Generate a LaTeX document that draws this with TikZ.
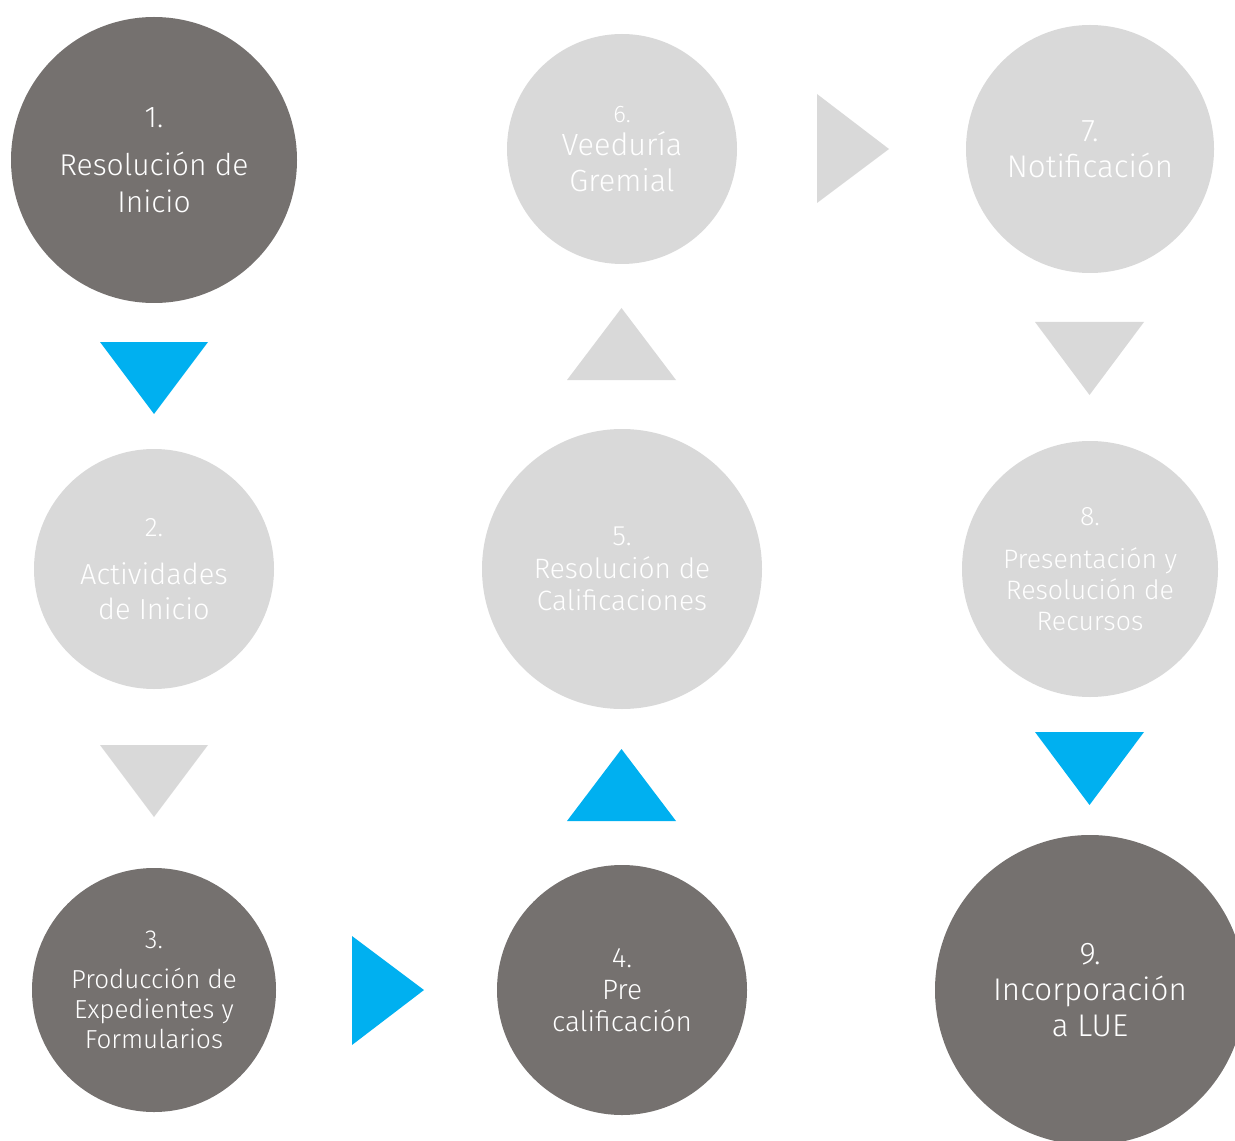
\documentclass[tikz,border=0pt]{standalone}
\usepackage{fontspec}
\setmainfont{Fira Sans}[UprightFont={* Light}]
\definecolor{darkstep}{HTML}{75716F}
\definecolor{lightstep}{HTML}{D9D9D9}
\definecolor{bluearrow}{HTML}{00B0F0}
\tikzset{
  stepdark/.style={circle, fill=darkstep, text=white, align=center, inner sep=0pt},
  steplight/.style={circle, fill=lightstep, text=white, align=center, inner sep=0pt}
}

\begin{document}
\begin{tikzpicture}[x=0.75pt,y=-0.75pt]
\useasboundingbox (0,0) rectangle (1235,1141);
\clip (0,0) rectangle (1235,1141);
\begin{scope}
% circles, first column
\node[stepdark, minimum size=214.5pt, font=\fontsize{22.5}{27.75}\selectfont] (s1) at (154,160)
  {1.\\[8pt] Resoluci\'on de\\ Inicio};
\node[steplight, minimum size=180pt, font=\fontsize{21.75}{26.25}\selectfont] (s2) at (154,569)
  {{\fontsize{20}{24}\selectfont 2.}\\[10pt] Actividades\\ de Inicio};
\node[stepdark, minimum size=183pt, font=\fontsize{19.5}{22.5}\selectfont] (s3) at (154,990)
  {3.\\[8pt] Producci\'on de\\ Expedientes y\\ Formularios};
% second column
\node[stepdark, minimum size=187.5pt, font=\fontsize{21}{24}\selectfont] (s4) at (622,990)
  {4.\\ Pre\\ calificaci\'on};
\node[steplight, minimum size=210pt, font=\fontsize{21}{24}\selectfont] (s5) at (622,569)
  {5.\\[1pt] Resoluci\'on de\\ Calificaciones};
\node[steplight, minimum size=172.5pt, font=\fontsize{23}{27}\selectfont] (s6) at (622,149)
  {{\fontsize{18}{22}\selectfont 6.}\\[-2pt] Veedur\'ia\\ Gremial};
% third column
\node[steplight, minimum size=186pt, font=\fontsize{23.5}{27}\selectfont] (s7) at (1090,149)
  {7.\\ Notificaci\'on};
\node[steplight, minimum size=192pt, font=\fontsize{20}{23.25}\selectfont] (s8) at (1090,569)
  {8.\\[9pt] Presentaci\'on y\\ Resoluci\'on de\\ Recursos};
\node[stepdark, minimum size=232.5pt, font=\fontsize{23.5}{27}\selectfont] (s9) at (1090,990)
  {9.\\ Incorporaci\'on\\ a LUE};

% triangles between the steps
\fill[bluearrow] (100,342) -- ++(108,0) -- ++(-54,72) -- cycle;
\fill[lightstep] (100,745) -- ++(108,0) -- ++(-54,72) -- cycle;
\fill[bluearrow] (352,936) -- ++(72,54) -- ++(-72,55) -- cycle;
\fill[bluearrow] (567,821) -- ++(109,0) -- ++(-54.5,-72) -- cycle;
\fill[lightstep] (567,380) -- ++(109,0) -- ++(-54.5,-72) -- cycle;
\fill[lightstep] (817,94) -- ++(72,55) -- ++(-72,54) -- cycle;
\fill[lightstep] (1035,322) -- ++(109,0) -- ++(-54.5,73) -- cycle;
\fill[bluearrow] (1035,732) -- ++(109,0) -- ++(-54.5,73) -- cycle;
\end{scope}
\end{tikzpicture}
\end{document}
